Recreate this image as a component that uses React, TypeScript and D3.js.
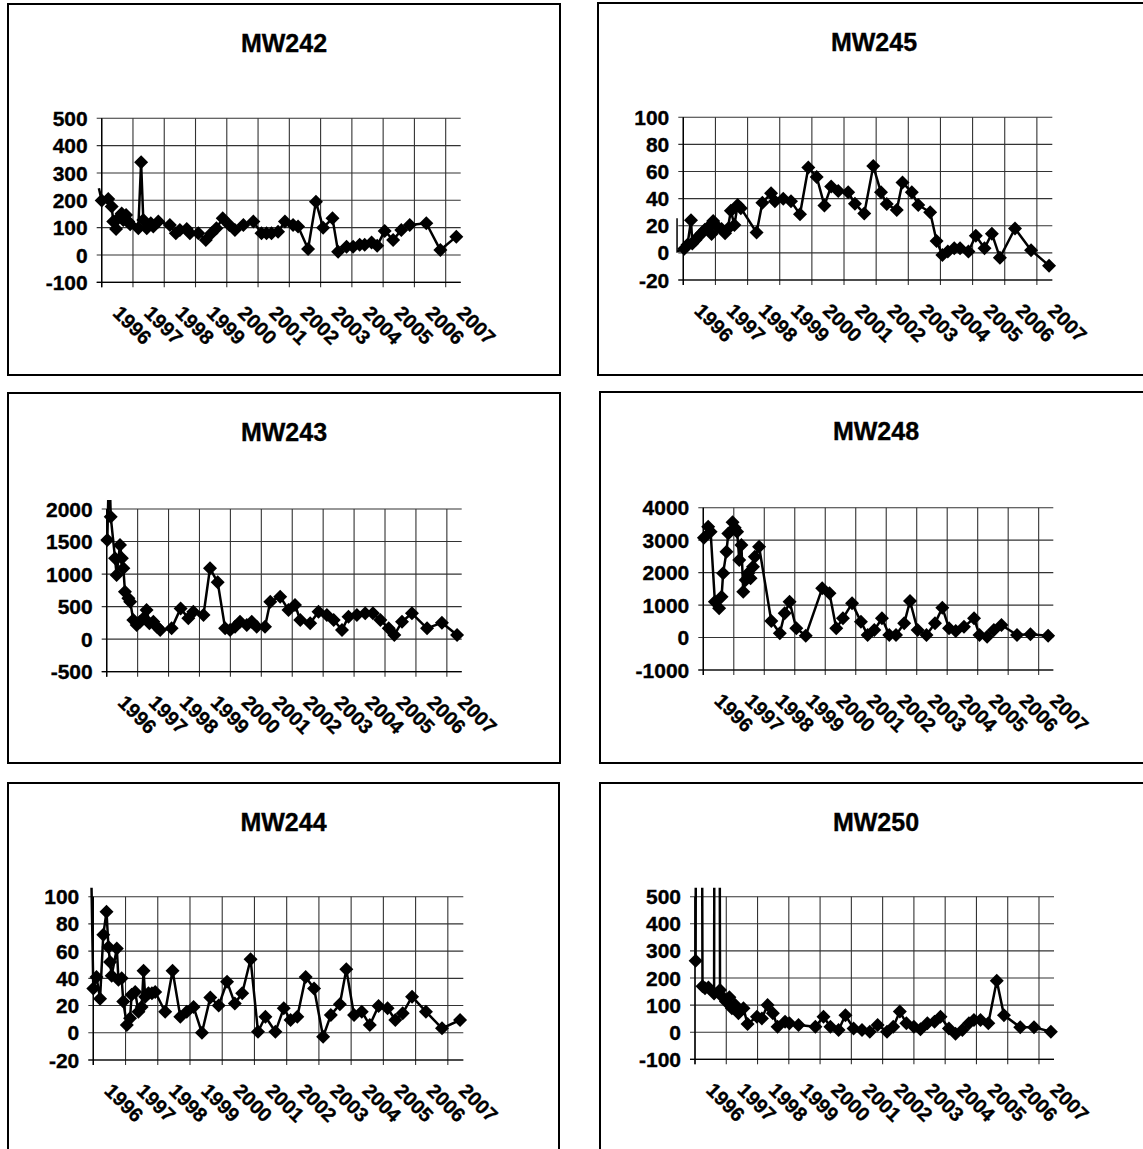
import React from "react";
import * as d3 from "d3";

// Shared date axis: year gridlines and their labels
const axisStart = 1996;
const axisEnd = 2007.48;
const yearTicks = [1996, 1997, 1998, 1999, 2000, 2001, 2002, 2003, 2004, 2005, 2006, 2007];
const yearLabels = ["1996", "1997", "1998", "1999", "2000", "2001", "2002", "2003", "2004", "2005", "2006", "2007"];

// MW242
const mw242Dates = [1995.91, 1996.0, 1996.21, 1996.32, 1996.37, 1996.46, 1996.53, 1996.64, 1996.69, 1996.78, 1996.85, 1996.91, 1997.17, 1997.26, 1997.33, 1997.44, 1997.57, 1997.65, 1997.81, 1998.18, 1998.37, 1998.5, 1998.72, 1998.82, 1999.09, 1999.33, 1999.51, 1999.67, 1999.87, 2000.08, 2000.26, 2000.53, 2000.85, 2001.11, 2001.27, 2001.43, 2001.64, 2001.86, 2002.12, 2002.28, 2002.6, 2002.85, 2003.08, 2003.38, 2003.56, 2003.83, 2004.04, 2004.25, 2004.41, 2004.63, 2004.81, 2005.05, 2005.32, 2005.58, 2005.85, 2006.38, 2006.83, 2007.34];
const mw242Values = [244, 199, 205, 177, 122, 95, 134, 152, 128, 146, 122, 112, 98, 339, 128, 98, 116, 104, 122, 110, 79, 91, 95, 79, 79, 55, 79, 98, 134, 110, 91, 110, 122, 79, 79, 79, 85, 122, 110, 104, 22, 195, 100, 134, 12, 30, 30, 37, 37, 46, 34, 88, 55, 91, 110, 116, 18, 67];

// MW245
const mw245Dates = [1995.79, 1995.79, 1996.03, 1996.13, 1996.24, 1996.28, 1996.38, 1996.47, 1996.57, 1996.67, 1996.78, 1996.88, 1996.93, 1997.07, 1997.19, 1997.3, 1997.38, 1997.48, 1997.59, 1997.69, 1997.79, 1998.28, 1998.46, 1998.73, 1998.85, 1999.11, 1999.35, 1999.63, 1999.89, 2000.15, 2000.39, 2000.6, 2000.82, 2001.13, 2001.34, 2001.63, 2001.91, 2002.15, 2002.33, 2002.64, 2002.82, 2003.11, 2003.31, 2003.68, 2003.88, 2004.06, 2004.23, 2004.43, 2004.61, 2004.87, 2005.1, 2005.37, 2005.6, 2005.85, 2006.32, 2006.82, 2007.38];
const mw245Values = [25.5, 1, 3, 6, 24, 7, 9.5, 12, 14.4, 17, 19, 14, 23.5, 19, 17.6, 14.4, 17.6, 31, 20.6, 35.3, 33, 15, 37, 44, 38, 40, 38, 28.5, 63, 56, 35, 49, 45.7, 44.7, 36.3, 29, 64, 44.7, 36, 31.6, 52, 44.7, 35.3, 30, 8.8, -1.5, 1, 3.4, 3.4, 1, 12.7, 3.4, 14.2, -3.5, 18, 2, -9.4];

// MW243
const mw243Dates = [1996.02, 1996.08, 1996.13, 1996.27, 1996.32, 1996.43, 1996.49, 1996.54, 1996.59, 1996.7, 1996.76, 1996.86, 1996.97, 1997.08, 1997.19, 1997.29, 1997.38, 1997.51, 1997.62, 1997.73, 1998.1, 1998.39, 1998.64, 1998.8, 1999.13, 1999.34, 1999.59, 1999.83, 1999.99, 2000.15, 2000.31, 2000.53, 2000.69, 2000.85, 2001.12, 2001.29, 2001.61, 2001.88, 2002.09, 2002.26, 2002.58, 2002.85, 2003.12, 2003.34, 2003.61, 2003.82, 2004.09, 2004.36, 2004.61, 2004.85, 2005.12, 2005.3, 2005.55, 2005.87, 2006.36, 2006.84, 2007.33];
const mw243Values = [1524, 2800, 1882, 1242, 986, 1447, 1242, 1088, 730, 627, 576, 294, 217, 268, 320, 448, 243, 268, 192, 140, 166, 473, 320, 422, 371, 1088, 873, 166, 140, 192, 268, 217, 268, 192, 192, 576, 653, 448, 525, 294, 243, 422, 371, 294, 140, 346, 371, 397, 397, 294, 166, 63, 268, 397, 166, 253, 63];

// MW248
const mw248Dates = [1996.02, 1996.16, 1996.24, 1996.38, 1996.52, 1996.6, 1996.65, 1996.76, 1996.82, 1996.96, 1997.03, 1997.11, 1997.18, 1997.25, 1997.31, 1997.39, 1997.47, 1997.55, 1997.63, 1997.69, 1997.83, 1998.23, 1998.51, 1998.67, 1998.83, 1999.05, 1999.36, 1999.9, 2000.14, 2000.36, 2000.58, 2000.88, 2001.17, 2001.39, 2001.61, 2001.86, 2002.1, 2002.32, 2002.59, 2002.78, 2003.03, 2003.32, 2003.6, 2003.84, 2004.06, 2004.28, 2004.55, 2004.88, 2005.06, 2005.31, 2005.53, 2005.78, 2006.29, 2006.73, 2007.31];
const mw248Values = [3076, 3415, 3260, 1105, 900, 1259, 1977, 2645, 3209, 3548, 3384, 3260, 2388, 2850, 1413, 1772, 1977, 1823, 2182, 2491, 2799, 509, 130, 745, 1105, 283, 57, 1515, 1361, 283, 591, 1053, 489, 78, 232, 591, 78, 78, 437, 1125, 232, 78, 437, 920, 283, 201, 334, 591, 78, 27, 232, 386, 78, 98, 57];

// MW244
const mw244Dates = [1995.92, 1996.0, 1996.1, 1996.21, 1996.31, 1996.41, 1996.47, 1996.52, 1996.57, 1996.73, 1996.78, 1996.88, 1996.93, 1997.04, 1997.14, 1997.19, 1997.3, 1997.4, 1997.5, 1997.56, 1997.61, 1997.71, 1997.82, 1997.92, 1998.23, 1998.46, 1998.7, 1998.9, 1999.11, 1999.37, 1999.63, 1999.89, 2000.15, 2000.39, 2000.62, 2000.88, 2001.11, 2001.34, 2001.65, 2001.91, 2002.12, 2002.33, 2002.59, 2002.85, 2003.13, 2003.37, 2003.65, 2003.85, 2004.09, 2004.33, 2004.58, 2004.85, 2005.13, 2005.37, 2005.6, 2005.89, 2006.32, 2006.82, 2007.38];
const mw244Values = [140, 32.6, 41, 25, 72, 89, 63, 52, 42, 62, 39, 40, 23, 5.7, 10.6, 28, 30, 15.5, 19, 45.6, 26.5, 29, 29, 30, 15.5, 45.6, 11.8, 15.5, 19, 0, 26, 20, 37.5, 21.6, 29, 54, 0.8, 11.8, 0.8, 18, 9.4, 11.8, 41, 32.6, -2.9, 13, 21, 46.6, 13, 15.5, 5.7, 19.7, 18, 9.4, 14.3, 26.5, 15.5, 3.3, 9.4];

// MW250
const mw250Dates = [1996.02, 1996.1, 1996.24, 1996.32, 1996.43, 1996.61, 1996.7, 1996.8, 1996.89, 1996.99, 1997.1, 1997.18, 1997.28, 1997.39, 1997.55, 1997.68, 1997.98, 1998.14, 1998.32, 1998.49, 1998.64, 1998.88, 1999.02, 1999.31, 1999.85, 2000.11, 2000.33, 2000.59, 2000.81, 2001.07, 2001.34, 2001.59, 2001.84, 2002.14, 2002.34, 2002.55, 2002.76, 2003.0, 2003.21, 2003.43, 2003.66, 2003.85, 2004.12, 2004.33, 2004.55, 2004.76, 2004.92, 2005.13, 2005.38, 2005.65, 2005.88, 2006.4, 2006.84, 2007.38];
const mw250Values = [264, 6000, 170, 162, 165, 143, 6000, 156, 129, 113, 129, 88, 101, 70, 88, 30, 57, 51, 100, 70, 20, 39, 33, 27, 20, 57, 20, 8, 63, 14, 8, 2, 27, 2, 20, 76, 33, 20, 11, 33, 39, 57, 14, -6, 8, 33, 45, 45, 33, 190, 63, 18, 18, 2];

type PanelCfg = {
  id: string;
  title: string;
  box: { x: number; y: number; w: number; h: number };
  plot: { left: number; right: number; top: number; bottom: number };
  yMin: number;
  yMax: number;
  yStep: number;
  dates: number[];
  values: number[];
};

const FONT = "'Liberation Sans', Arial, Helvetica, sans-serif";

const panels: PanelCfg[] = [
  { id: "mw242", title: "MW242", box: { x: 8, y: 4, w: 552, h: 371 }, plot: { left: 101.7, right: 460.7, top: 118.3, bottom: 282.3 }, yMin: -100, yMax: 500, yStep: 100, dates: mw242Dates, values: mw242Values },
  { id: "mw245", title: "MW245", box: { x: 598, y: 3, w: 560, h: 372 }, plot: { left: 683.3, right: 1052.3, top: 117.3, bottom: 280 }, yMin: -20, yMax: 100, yStep: 20, dates: mw245Dates, values: mw245Values },
  { id: "mw243", title: "MW243", box: { x: 8, y: 393, w: 552, h: 370 }, plot: { left: 106.7, right: 461.7, top: 509, bottom: 671.7 }, yMin: -500, yMax: 2000, yStep: 500, dates: mw243Dates, values: mw243Values },
  { id: "mw248", title: "MW248", box: { x: 600, y: 392, w: 560, h: 371 }, plot: { left: 703.3, right: 1053.3, top: 507.7, bottom: 670 }, yMin: -1000, yMax: 4000, yStep: 1000, dates: mw248Dates, values: mw248Values },
  { id: "mw244", title: "MW244", box: { x: 8, y: 783, w: 551, h: 380 }, plot: { left: 93.3, right: 463.3, top: 896.7, bottom: 1060 }, yMin: -20, yMax: 100, yStep: 20, dates: mw244Dates, values: mw244Values },
  { id: "mw250", title: "MW250", box: { x: 600, y: 783, w: 560, h: 380 }, plot: { left: 695, right: 1054, top: 896.7, bottom: 1059.3 }, yMin: -100, yMax: 500, yStep: 100, dates: mw250Dates, values: mw250Values },
];

const diamond = (s: number) => `M0,${-s}L${s},0L0,${s}L${-s},0Z`;

function Panel({ cfg }: { cfg: PanelCfg }) {
  const { box, plot } = cfg;
  const x = d3.scaleLinear().domain([axisStart, axisEnd]).range([plot.left, plot.right]);
  const y = d3.scaleLinear().domain([cfg.yMin, cfg.yMax]).range([plot.bottom, plot.top]);
  const yTicks = d3.range(cfg.yMin, cfg.yMax + cfg.yStep / 2, cfg.yStep);
  const pts: [number, number][] = cfg.dates.map((d, i) => [d, cfg.values[i]]);
  const line = d3
    .line<[number, number]>()
    .x((d) => x(d[0]))
    .y((d) => y(d[1]));
  const shown = pts.filter(([d, v]) => d >= axisStart && v >= cfg.yMin && v <= cfg.yMax);
  const clipId = `clip-${cfg.id}`;
  const gridColor = "#333";
  const textProps = { fontFamily: FONT, fontWeight: "bold" as const, fill: "#000", stroke: "#000", strokeWidth: 0.35 };

  return (
    <g>
      <rect x={box.x} y={box.y} width={box.w} height={box.h} fill="#fff" stroke="#000" strokeWidth={2} />
      <text x={box.x + box.w / 2 - (box.w > 555 ? 4 : 0)} y={box.y + 48} textAnchor="middle" fontSize={25} {...textProps}>
        {cfg.title}
      </text>
      <defs>
        <clipPath id={clipId}>
          <rect x={plot.left - 7} y={plot.top - 9} width={plot.right - plot.left + 7} height={plot.bottom - plot.top + 9} />
        </clipPath>
      </defs>
      {/* horizontal gridlines with outside tick marks */}
      {yTicks.map((t) => (
        <line key={`h${t}`} x1={plot.left - 5} x2={plot.right} y1={y(t)} y2={y(t)} stroke={gridColor} strokeWidth={1.1} />
      ))}
      {/* yearly vertical gridlines with tick marks below */}
      {yearTicks.map((yr) => (
        <line key={`v${yr}`} x1={x(yr)} x2={x(yr)} y1={plot.top} y2={plot.bottom + 5} stroke={gridColor} strokeWidth={1.1} />
      ))}
      <line x1={plot.left} x2={plot.left} y1={plot.top} y2={plot.bottom + 5} stroke="#000" strokeWidth={1.4} />
      <line x1={plot.left - 5} x2={plot.right} y1={plot.bottom} y2={plot.bottom} stroke="#000" strokeWidth={1.2} />
      {yTicks.map((t) => (
        <text key={`yl${t}`} x={plot.left - 14} y={y(t)} dy="0.36em" textAnchor="end" fontSize={21} {...textProps}>
          {t}
        </text>
      ))}
      {yearTicks.map((yr, i) => (
        <text key={`xl${yr}`} transform={`translate(${x(yr) + 10},${plot.bottom + 32}) rotate(45)`} fontSize={20} {...textProps}>
          {yearLabels[i]}
        </text>
      ))}
      <path d={line(pts) || ""} fill="none" stroke="#000" strokeWidth={2.5} strokeLinejoin="round" clipPath={`url(#${clipId})`} />
      {shown.map(([d, v], i) => (
        <path key={`m${i}`} d={diamond(7)} transform={`translate(${x(d)},${y(v)})`} fill="#000" />
      ))}
    </g>
  );
}

export default function App() {
  return (
    <svg width={1143} height={1149} viewBox="0 0 1143 1149" style={{ position: "absolute", left: 0, top: 0, background: "#fff" }}>
      <rect x={0} y={0} width={1143} height={1149} fill="#fff" />
      {panels.map((p) => (
        <Panel key={p.id} cfg={p} />
      ))}
    </svg>
  );
}
